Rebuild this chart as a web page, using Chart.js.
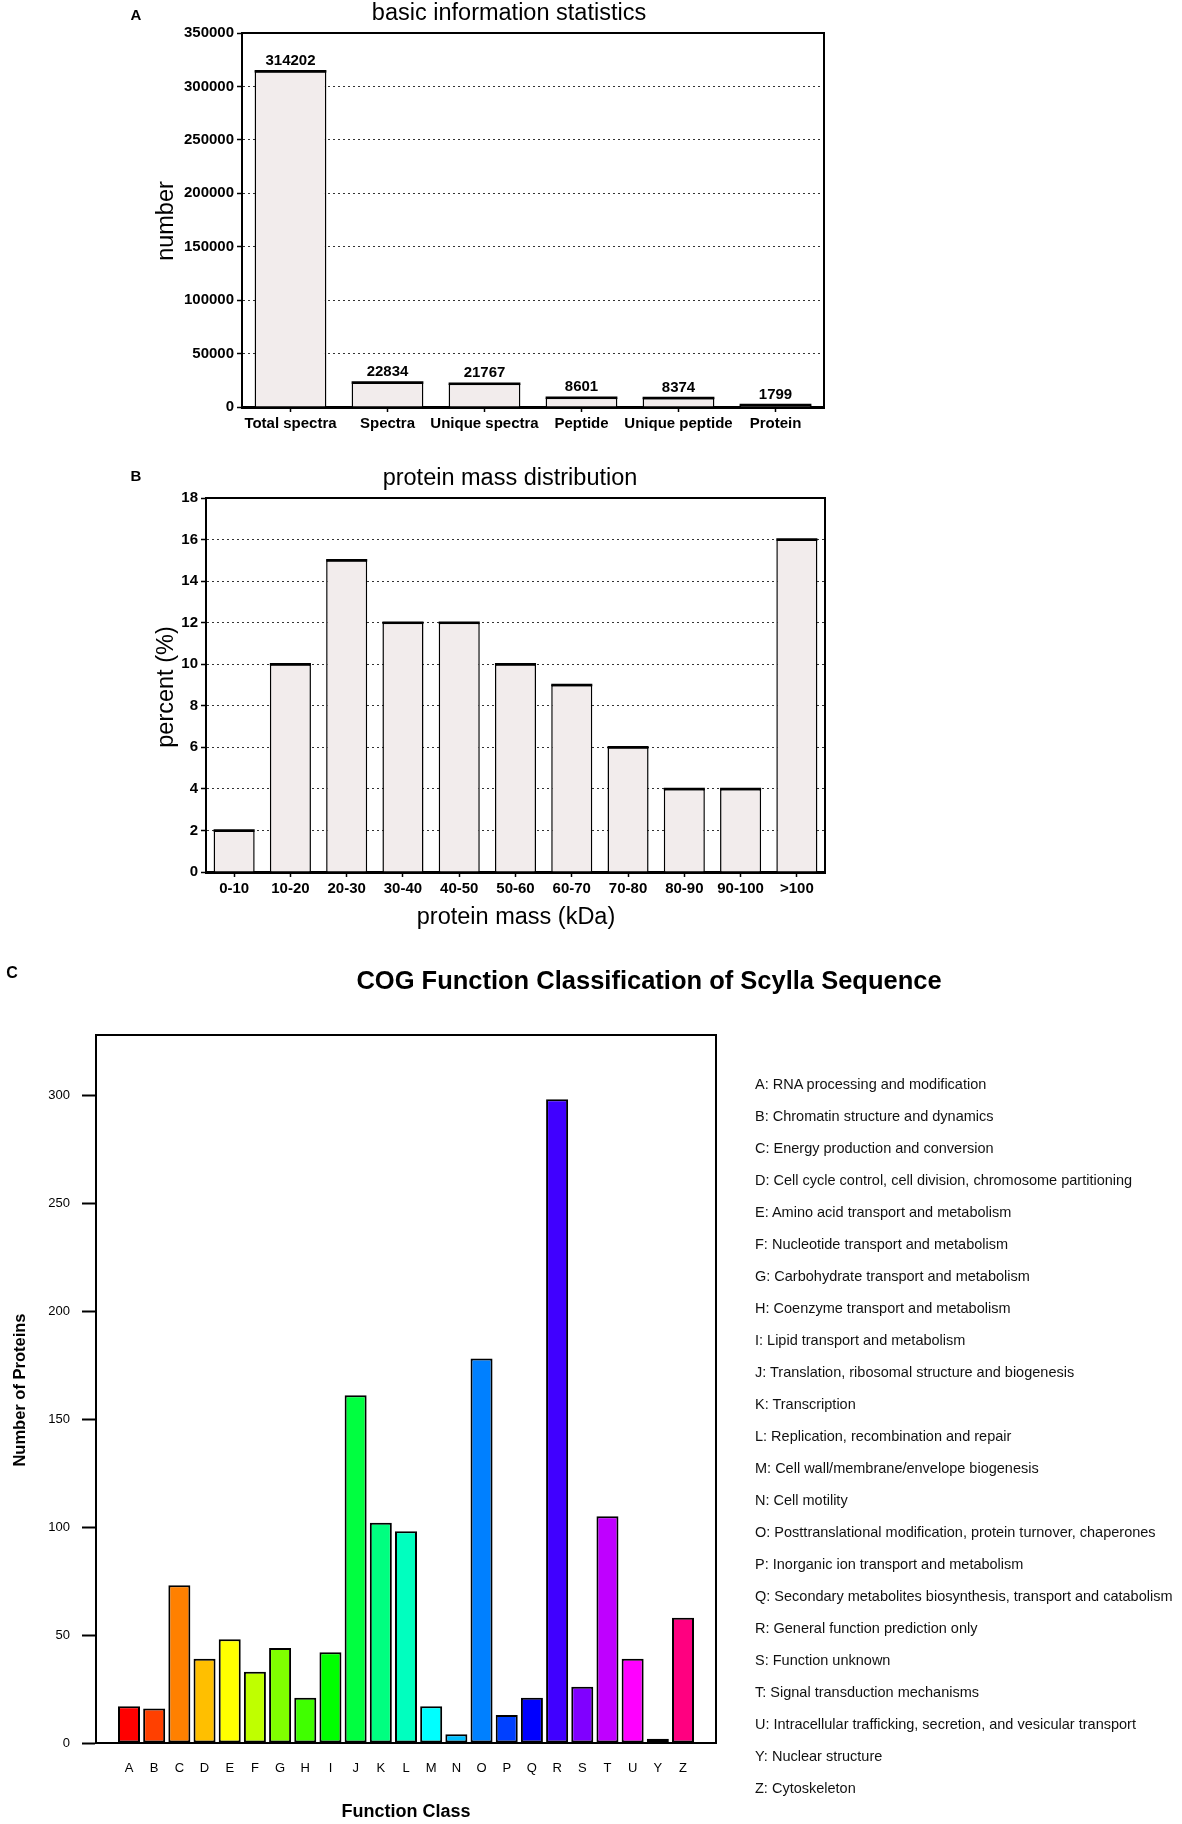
<!DOCTYPE html>
<html><head><meta charset="utf-8">
<script src="https://cdn.jsdelivr.net/npm/chart.js@4.4.1/dist/chart.umd.min.js"></script>
<style>
html,body{margin:0;padding:0;background:#fff;}
body{width:1182px;height:1824px;position:relative;overflow:hidden;font-family:'Liberation Sans',Arial,sans-serif;color:#000;}
canvas{position:absolute;left:0;}
.t{position:absolute;transform:translate(-50%,-50%);white-space:nowrap;line-height:1;}
.r{transform:translate(-50%,-50%) rotate(-90deg);}
.leg{position:absolute;left:755px;font-size:14.5px;white-space:nowrap;transform:translateY(-50%);color:#111;line-height:1;}
</style></head><body>
<canvas id="ca" width="1182" height="450" style="top:0"></canvas>
<canvas id="cb" width="1182" height="500" style="top:450px"></canvas>
<canvas id="cc" width="1182" height="874" style="top:950px"></canvas>
<div class="t" style="left:136px;top:14px;font-weight:bold;font-size:15px">A</div>
<div class="t" style="left:509px;top:13px;font-size:23.5px">basic information statistics</div>
<div class="t r" style="left:166px;top:221px;font-size:23.5px">number</div>
<div class="t" style="left:136px;top:475px;font-weight:bold;font-size:15px">B</div>
<div class="t" style="left:510px;top:478px;font-size:23.5px">protein mass distribution</div>
<div class="t r" style="left:166px;top:687px;font-size:23.5px">percent (%)</div>
<div class="t" style="left:516px;top:917px;font-size:23.5px">protein mass (kDa)</div>
<div class="t" style="left:12px;top:973px;font-weight:bold;font-size:16px">C</div>
<div class="t" style="left:649px;top:981px;font-weight:bold;font-size:25.5px">COG Function Classification of Scylla Sequence</div>
<div class="t r" style="left:19px;top:1390px;font-weight:bold;font-size:16.5px">Number of Proteins</div>
<div class="t" style="left:406px;top:1811px;font-weight:bold;font-size:18px">Function Class</div>
<div id="legend"></div>
<script>
// ---------- Data ----------
const statCategories = ['Total spectra','Spectra','Unique spectra','Peptide','Unique peptide','Protein'];
const statValues = [314202, 22834, 21767, 8601, 8374, 1799];
const statTickStep = 50000;
const statMax = 350000;

const massCategories = ['0-10','10-20','20-30','30-40','40-50','50-60','60-70','70-80','80-90','90-100','>100'];
const massPercent = [2, 10, 15, 12, 12, 10, 9, 6, 4, 4, 16];
const massTickStep = 2;
const massMax = 18;

const cogClasses = ['A','B','C','D','E','F','G','H','I','J','K','L','M','N','O','P','Q','R','S','T','U','Y','Z'];
const cogCounts = [17, 16, 73, 39, 48, 33, 44, 21, 42, 161, 102, 98, 17, 4, 178, 13, 21, 298, 26, 105, 39, 2, 58];
const cogColors = ['#FF0000','#FF4000','#FF8000','#FFBF00','#FFFF00','#BFFF00','#80FF00','#40FF00','#00FF00','#00FF40','#00FF80','#00FFBF','#00FFFF','#00BFFF','#0080FF','#0040FF','#0000FF','#4000FF','#8000FF','#BF00FF','#FF00FF','#FF00BF','#FF0080'];
const cogDescriptions = [
 'RNA processing and modification',
 'Chromatin structure and dynamics',
 'Energy production and conversion',
 'Cell cycle control, cell division, chromosome partitioning',
 'Amino acid transport and metabolism',
 'Nucleotide transport and metabolism',
 'Carbohydrate transport and metabolism',
 'Coenzyme transport and metabolism',
 'Lipid transport and metabolism',
 'Translation, ribosomal structure and biogenesis',
 'Transcription',
 'Replication, recombination and repair',
 'Cell wall/membrane/envelope biogenesis',
 'Cell motility',
 'Posttranslational modification, protein turnover, chaperones',
 'Inorganic ion transport and metabolism',
 'Secondary metabolites biosynthesis, transport and catabolism',
 'General function prediction only',
 'Function unknown',
 'Signal transduction mechanisms',
 'Intracellular trafficking, secretion, and vesicular transport',
 'Nuclear structure',
 'Cytoskeleton'
];
const cogTickStep = 50;
const cogMax = 327.8;

// ---------- Legend (HTML text) ----------
const legEl = document.getElementById('legend');
cogClasses.forEach((c, i) => {
  const d = document.createElement('div');
  d.className = 'leg';
  d.style.top = (1084 + 32 * i) + 'px';
  d.textContent = c + ': ' + cogDescriptions[i];
  legEl.appendChild(d);
});

// ---------- Chart.js ----------
Chart.defaults.font.family = "'Liberation Sans', Arial, sans-serif";
Chart.defaults.color = '#000';

const framePlugin = {
  id: 'frame',
  afterDraw(chart, args, opts) {
    const {ctx, chartArea: a} = chart;
    ctx.save();
    ctx.strokeStyle = '#000';
    ctx.lineWidth = opts.width || 2;
    ctx.beginPath();
    ctx.moveTo(a.left, a.top);
    ctx.lineTo(a.right, a.top);
    ctx.lineTo(a.right, a.bottom);
    ctx.stroke();
    ctx.restore();
  }
};

// thick top edge of each grey bar + optional value labels
const barTopPlugin = {
  id: 'barTop',
  afterDatasetsDraw(chart, args, opts) {
    const {ctx} = chart;
    const meta = chart.getDatasetMeta(0);
    const data = chart.data.datasets[0].data;
    ctx.save();
    ctx.strokeStyle = '#000';
    ctx.lineWidth = 2.5;
    meta.data.forEach(bar => {
      ctx.beginPath();
      ctx.moveTo(bar.x - bar.width / 2, bar.y);
      ctx.lineTo(bar.x + bar.width / 2, bar.y);
      ctx.stroke();
    });
    if (opts.show) {
      ctx.font = "bold 15px 'Liberation Sans', Arial, sans-serif";
      ctx.fillStyle = '#000';
      ctx.textAlign = 'center';
      ctx.textBaseline = 'bottom';
      meta.data.forEach((bar, i) => ctx.fillText(String(data[i]), bar.x, bar.y - 3));
    }
    ctx.restore();
  }
};

function greyBarChart(id, labels, values, maxV, step, geom, showValues) {
  return new Chart(document.getElementById(id), {
    type: 'bar',
    data: {
      labels: labels,
      datasets: [{
        data: values,
        backgroundColor: '#f2ecec',
        borderColor: '#000',
        borderWidth: {top: 1.5, left: 1.5, right: 1.5, bottom: 0},
        categoryPercentage: 1,
        barPercentage: geom.bar
      }]
    },
    options: {
      responsive: false,
      animation: false,
      events: [],
      layout: {autoPadding: false, padding: {left: 0, top: geom.top, right: geom.right, bottom: 0}},
      plugins: {legend: {display: false}, tooltip: {enabled: false}, frame: {width: 2}, barTop: {show: showValues}},
      scales: {
        x: {
          afterFit: s => { s.height = geom.xh; },
          grid: {display: true, drawOnChartArea: false, offset: false, tickLength: 5, tickColor: '#000', tickWidth: 1.5},
          border: {display: true, color: '#000', width: 3},
          ticks: {font: {size: 15, weight: 'bold'}, padding: 3, autoSkip: false, maxRotation: 0}
        },
        y: {
          min: 0, max: maxV,
          afterFit: s => { s.width = geom.yw; },
          grid: {
            display: true, drawOnChartArea: true, tickLength: 5, tickColor: '#000', tickWidth: 1.5, lineWidth: 1,
            color: c => (c.tick && (c.tick.value === 0 || c.tick.value === maxV)) ? 'rgba(0,0,0,0)' : '#333'
          },
          border: {display: true, color: '#000', width: 2, dash: [2, 3]},
          ticks: {stepSize: step, font: {size: 15, weight: 'bold'}, padding: 3, callback: v => String(v)}
        }
      }
    },
    plugins: [framePlugin, barTopPlugin]
  });
}

greyBarChart('ca', statCategories, statValues, statMax, statTickStep,
  {top: 33, right: 358, xh: 43, yw: 242, bar: 0.74}, true);
greyBarChart('cb', massCategories, massPercent, massMax, massTickStep,
  {top: 48, right: 357, xh: 78, yw: 206, bar: 0.73}, false);

new Chart(document.getElementById('cc'), {
  type: 'bar',
  data: {
    datasets: [{
      data: cogCounts.map((v, i) => ({x: i, y: v})),
      backgroundColor: cogColors,
      borderColor: '#000',
      borderWidth: 2,
      borderSkipped: false,
      categoryPercentage: 1,
      barPercentage: 0.874
    }]
  },
  options: {
    responsive: false,
    animation: false,
    events: [],
    layout: {autoPadding: false, padding: {left: 0, top: 85, right: 466, bottom: 0}},
    plugins: {legend: {display: false}, tooltip: {enabled: false}, frame: {width: 2}},
    scales: {
      x: {
        type: 'linear',
        offset: false,
        min: -1.31, max: cogClasses.length - 1 + 1.31,
        afterFit: s => { s.height = 81; },
        afterBuildTicks: s => { s.ticks = cogClasses.map((c, i) => ({value: i})); },
        grid: {display: false, drawTicks: false, offset: false},
        border: {display: true, color: '#000', width: 2},
        ticks: {font: {size: 13}, padding: 18, autoSkip: false, maxRotation: 0,
                callback: v => (cogClasses[v] !== undefined ? cogClasses[v] : '')}
      },
      y: {
        min: 0, max: cogMax,
        afterFit: s => { s.width = 96; },
        grid: {display: true, drawOnChartArea: false, tickLength: 14, tickColor: '#000', tickWidth: 2},
        border: {display: true, color: '#000', width: 2},
        ticks: {stepSize: cogTickStep, includeBounds: false, font: {size: 13}, padding: 12}
      }
    }
  },
  plugins: [framePlugin]
});
</script>
</body></html>
